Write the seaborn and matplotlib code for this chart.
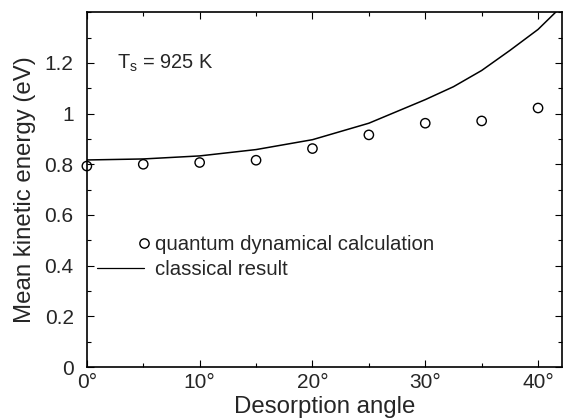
import matplotlib
matplotlib.use("Agg")
import matplotlib.pyplot as plt
from matplotlib.lines import Line2D
from matplotlib.legend_handler import HandlerLine2D
from matplotlib.ticker import MultipleLocator, FixedLocator
import seaborn as sns
import pandas as pd

# data
quantum_angle = [0, 5, 10, 15, 20, 25, 30, 35, 40]
quantum_energy = [0.793, 0.800, 0.807, 0.816, 0.862, 0.916, 0.962, 0.971, 1.022]

classical_angle = [0, 5, 10, 15, 20, 25, 30, 32.5, 35, 37.5, 40, 41.7]
classical_energy = [0.817, 0.821, 0.833, 0.858, 0.897, 0.962, 1.055, 1.106, 1.170, 1.249, 1.332, 1.406]

xtick_vals = [0, 10, 20, 30, 40]
xtick_labels = ["0°", "10°", "20°", "30°", "40°"]
ytick_vals = [0, 0.2, 0.4, 0.6, 0.8, 1.0, 1.2]
ytick_labels = ["0", "0.2", "0.4", "0.6", "0.8", "1", "1.2"]

sns.set_style("ticks")
plt.rcParams["font.family"] = ["Liberation Sans", "DejaVu Sans"]
plt.rcParams["mathtext.fontset"] = "custom"
plt.rcParams["mathtext.rm"] = "Liberation Sans"


class RightMarkerHandler(HandlerLine2D):
    """Legend handler that puts the single marker at the right end of the handle box."""
    def create_artists(self, legend, orig_handle, xdescent, ydescent, width, height,
                       fontsize, trans):
        arts = super().create_artists(legend, orig_handle, xdescent, ydescent, width,
                                      height, fontsize, trans)
        for a in arts:
            if isinstance(a, Line2D) and len(a.get_xdata()) == 3:
                a.set_markevery([2])
        return arts


fig = plt.figure(figsize=(5.64, 4.2), dpi=100)
ax = fig.add_axes([0.154, 0.126, 0.842, 0.845])

qdf = pd.DataFrame({"angle": quantum_angle, "energy": quantum_energy})
cdf = pd.DataFrame({"angle": classical_angle, "energy": classical_energy})

sns.lineplot(data=cdf, x="angle", y="energy", ax=ax, color="black", linewidth=1.1,
             sort=False)
sns.scatterplot(data=qdf, x="angle", y="energy", ax=ax, marker="o", s=45,
                facecolor="none", edgecolor="black", linewidth=1.0, clip_on=False, zorder=3)

ax.set_xlim(0, 42.1)
ax.set_ylim(0, 1.4)
ax.xaxis.set_major_locator(FixedLocator(xtick_vals))
ax.set_xticklabels(xtick_labels)
ax.yaxis.set_major_locator(FixedLocator(ytick_vals))
ax.set_yticklabels(ytick_labels)
ax.xaxis.set_minor_locator(MultipleLocator(5))
ax.yaxis.set_minor_locator(MultipleLocator(0.1))
ax.tick_params(which="both", direction="in", top=True, right=True, color="black")
ax.tick_params(which="major", length=5, width=0.8, labelsize=15)
ax.tick_params(which="minor", length=3, width=0.8)
ax.tick_params(axis="y", which="major", pad=9.5)
ax.tick_params(axis="x", which="major", pad=4)
for s in ax.spines.values():
    s.set_color("black")
    s.set_linewidth(1.2)

ax.set_xlabel("Desorption angle", fontsize=17.3, labelpad=3.5)
ax.set_ylabel("Mean kinetic energy (eV)", fontsize=17.3, labelpad=6)

ax.text(2.7, 1.2, r"T$_\mathregular{s}$ = 925 K", fontsize=14.4, va="center", ha="left")

h_q = Line2D([], [], marker="o", linestyle="none", markerfacecolor="none",
             markeredgecolor="black", markersize=6.7, markeredgewidth=1.0)
h_c = Line2D([], [], color="black", linewidth=0.9)
ax.legend([h_q, h_c], ["quantum dynamical calculation", "classical result"],
          handler_map={h_q: RightMarkerHandler(numpoints=1)},
          loc="upper left", bbox_to_anchor=(0.021, 0.372), frameon=False,
          fontsize=14.7, handlelength=2.3, handletextpad=0.55,
          borderpad=0, borderaxespad=0, labelspacing=0.3)

fig.savefig("out.png", dpi=100)
